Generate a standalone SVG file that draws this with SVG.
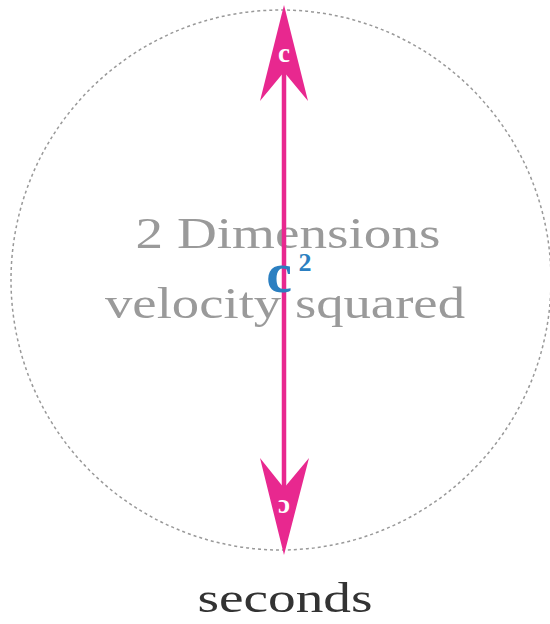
<svg xmlns="http://www.w3.org/2000/svg" width="550" height="624" viewBox="0 0 550 624">
<style>
.lbl{font-family:"Liberation Serif","DejaVu Serif",serif;fill:#9a9a9a;font-size:45px;text-anchor:middle}
.arrow{fill:#e8288f}
.head{font-family:"Liberation Serif",serif;font-size:27px;font-weight:bold;fill:#fff;text-anchor:middle}
.blue{font-family:"Liberation Serif",serif;font-weight:bold;fill:#2b7fc1;text-anchor:middle}
</style>
<rect width="550" height="624" fill="#fff"/>
<g id="circle">
<circle cx="281" cy="280" r="270" fill="none" stroke="#999" stroke-width="1.5" stroke-dasharray="3,3"/>
</g>
<g id="labels">
<text class="lbl" x="288" y="248" textLength="305" lengthAdjust="spacingAndGlyphs">2 Dimensions</text>
<text class="lbl" x="285" y="318" textLength="360" lengthAdjust="spacingAndGlyphs">velocity squared</text>
</g>
<g id="connectors">
<line x1="284" y1="60" x2="284" y2="500" stroke="#e8288f" stroke-width="4.5"/>
<polygon class="arrow" points="284,5 308,101 284,72 260,101"/>
<polygon class="arrow" points="284,555 309,458 284,488 260,458"/>
<text class="head" x="284" y="62">c</text>
<text class="head" x="284" y="514" transform="rotate(180 284 507)">c</text>
</g>
<g id="c2">
<text class="blue" x="279" y="292" font-size="58">c</text>
<text class="blue" x="305" y="271" font-size="26">2</text>
</g>
<g id="seconds">
<text x="285" y="612" font-family="Liberation Serif,serif" font-size="42" fill="#333" text-anchor="middle" textLength="175" lengthAdjust="spacingAndGlyphs">seconds</text>
</g>
</svg>
